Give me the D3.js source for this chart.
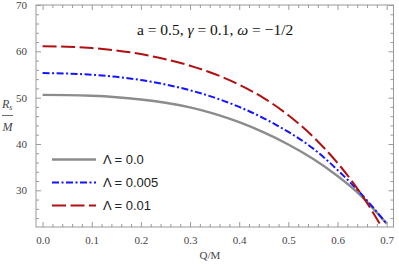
<!DOCTYPE html>
<html>
<head>
<meta charset="utf-8">
<script src="https://cdn.jsdelivr.net/npm/d3@7"></script>
<style>
  body { margin: 0; background: #fff; }
  .tick text { font-family: "Liberation Serif", "DejaVu Serif", serif; font-size: 11px; fill: #444; }
</style>
</head>
<body>
<script>
// Q/M sample points
var qValues = [0, 0.05, 0.1, 0.15, 0.2, 0.25, 0.3, 0.35, 0.4, 0.45, 0.5, 0.55, 0.6, 0.65, 0.7];
// R_s/M for each Lambda
var lambda0 = [50.6, 50.55, 50.4, 50.1, 49.6, 48.9, 47.9, 46.5, 44.7, 42.5, 39.9, 36.8, 33.1, 28.6, 22.8];
var lambda005 = [55.3, 55.2, 54.95, 54.5, 53.8, 52.85, 51.6, 50.0, 48.0, 45.55, 42.6, 39.05, 34.4, 29.0, 22.8];
var lambda01 = [61.1, 61.0, 60.7, 60.2, 59.4, 58.3, 56.9, 55.1, 52.8, 49.9, 46.2, 41.6, 35.9, 28.9, 20.3];
var seriesNames = ["\u039b = 0.0", "\u039b = 0.005", "\u039b = 0.01"];
var xTicks = [0, 0.1, 0.2, 0.3, 0.4, 0.5, 0.6, 0.7];
var yTicks = [30, 40, 50, 60, 70];

var w = 399, h = 264;
var pLeft = 36, pRight = 393.5, pTop = 5, pBottom = 227;

var svg = d3.select("body").append("svg")
  .attr("width", w).attr("height", h);

var x = d3.scaleLinear().domain([-0.0134, 0.7139]).range([pLeft, pRight]);
var y = d3.scaleLinear().domain([22.08, 70]).range([pBottom, pTop]);

// frame
svg.append("rect")
  .attr("x", pLeft).attr("y", pTop)
  .attr("width", pRight - pLeft).attr("height", pBottom - pTop)
  .attr("fill", "none").attr("stroke", "#9a9a9a").attr("stroke-width", 1);

var minorX = d3.range(0, 0.72, 0.02).filter(function(d){ return Math.abs(d*10 - Math.round(d*10)) > 0.01; });
var minorY = d3.range(24, 70, 2).filter(function(d){ return d % 10 != 0; });

function frameAxis(axis, tf) {
  var g = svg.append("g").attr("transform", tf).call(axis);
  g.select(".domain").remove();
  g.selectAll(".tick line").attr("stroke", "#9a9a9a");
  return g;
}

// bottom + top
frameAxis(d3.axisBottom(x).tickValues(xTicks).tickSize(-5).tickPadding(9).tickFormat(d3.format(".1f")), "translate(0," + pBottom + ")");
frameAxis(d3.axisBottom(x).tickValues(minorX).tickSize(-3).tickFormat(""), "translate(0," + pBottom + ")");
frameAxis(d3.axisTop(x).tickValues(xTicks).tickSize(-5).tickFormat(""), "translate(0," + pTop + ")");
frameAxis(d3.axisTop(x).tickValues(minorX).tickSize(-3).tickFormat(""), "translate(0," + pTop + ")");
// left + right
frameAxis(d3.axisLeft(y).tickValues(yTicks).tickSize(-5).tickPadding(9), "translate(" + pLeft + ",0)");
frameAxis(d3.axisLeft(y).tickValues(minorY).tickSize(-3).tickFormat(""), "translate(" + pLeft + ",0)");
frameAxis(d3.axisRight(y).tickValues(yTicks).tickSize(-5).tickFormat(""), "translate(" + pRight + ",0)");
frameAxis(d3.axisRight(y).tickValues(minorY).tickSize(-3).tickFormat(""), "translate(" + pRight + ",0)");

svg.append("clipPath").attr("id", "clip")
  .append("rect").attr("x", pLeft).attr("y", pTop)
  .attr("width", pRight - pLeft).attr("height", pBottom - pTop);

var styles = [
  { data: lambda0, color: "#8c8c8c", dash: null, width: 2.4 },
  { data: lambda005, color: "#1414ff", dash: "7,2.5,2,2.5", width: 2 },
  { data: lambda01, color: "#b01010", dash: "14,4.5", width: 2 }
];

var line = d3.line()
  .x(function(d){ return x(d[0]); })
  .y(function(d){ return y(d[1]); })
  .curve(d3.curveNatural);

styles.forEach(function(s) {
  svg.append("path")
    .datum(qValues.map(function(q, i){ return [q, s.data[i]]; }))
    .attr("clip-path", "url(#clip)")
    .attr("d", line)
    .attr("fill", "none")
    .attr("stroke", s.color)
    .attr("stroke-width", s.width)
    .attr("stroke-dasharray", s.dash);
});

// legend
var legY = [159.5, 182.5, 205.5];
styles.forEach(function(s, i) {
  svg.append("line")
    .attr("x1", 52).attr("x2", 96)
    .attr("y1", legY[i]).attr("y2", legY[i])
    .attr("stroke", s.color).attr("stroke-width", s.width)
    .attr("stroke-dasharray", s.dash);
  svg.append("text")
    .attr("x", 103).attr("y", legY[i] + 4.5)
    .attr("font-family", "Liberation Sans, Arial, sans-serif")
    .attr("font-size", 13).attr("fill", "#222")
    .text(seriesNames[i]);
});

// annotation
var ann = svg.append("text")
  .attr("x", 137).attr("y", 35)
  .attr("font-family", "Liberation Serif, Times New Roman, serif")
  .attr("font-size", 15.5).attr("fill", "#111");
ann.append("tspan").text("a = 0.5, ");
ann.append("tspan").attr("font-style", "italic").text("\u03b3");
ann.append("tspan").text(" = 0.1, ");
ann.append("tspan").attr("font-style", "italic").text("\u03c9");
ann.append("tspan").text(" = \u22121/2");

// axis labels
svg.append("text")
  .attr("x", 210).attr("y", 259)
  .attr("text-anchor", "middle")
  .attr("font-family", "Liberation Serif, serif")
  .attr("font-size", 11).attr("fill", "#444")
  .text("Q/M");

var yl = svg.append("text")
  .attr("x", 2).attr("y", 108)
  .attr("font-family", "Liberation Serif, serif")
  .attr("font-size", 12).attr("fill", "#444");
yl.append("tspan").attr("font-style", "italic").text("R");
yl.append("tspan").attr("font-style", "italic").attr("font-size", 8).attr("dy", 2).text("s");
svg.append("line")
  .attr("x1", 2).attr("x2", 13).attr("y1", 115.5).attr("y2", 115.5)
  .attr("stroke", "#444").attr("stroke-width", 0.8);
svg.append("text")
  .attr("x", 7.5).attr("y", 131)
  .attr("text-anchor", "middle")
  .attr("font-family", "Liberation Serif, serif")
  .attr("font-style", "italic")
  .attr("font-size", 12).attr("fill", "#444")
  .text("M");
</script>
</body>
</html>
